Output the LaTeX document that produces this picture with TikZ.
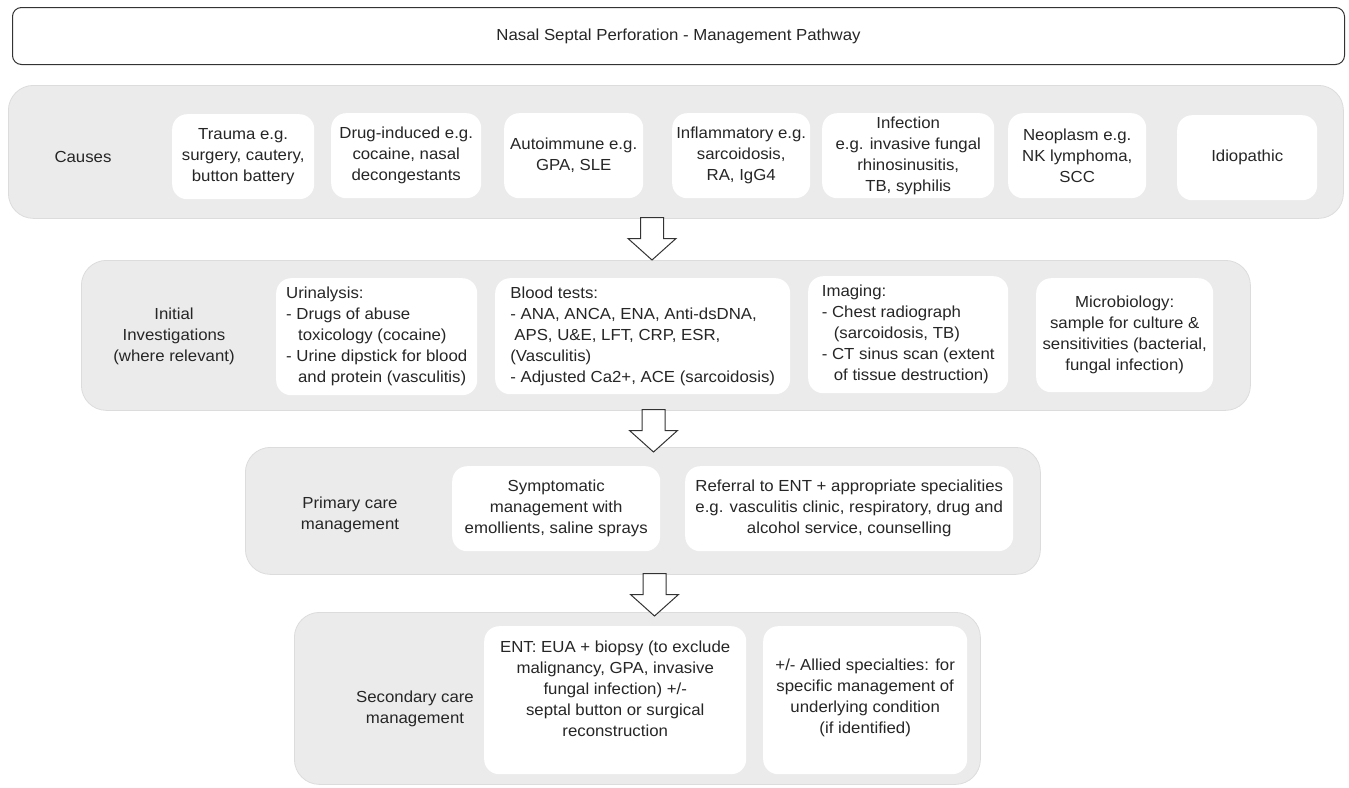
\documentclass[tikz,border=0pt]{standalone}
\usepackage{fontspec}
\setmainfont{Liberation Sans}[FakeStretch=1.05]
\definecolor{bandfill}{HTML}{EBEBEB}
\definecolor{bandline}{HTML}{DCDCDC}
\definecolor{txt}{HTML}{262626}
\definecolor{arrline}{HTML}{333333}
\newcommand{\ind}{\hspace*{12pt}}
\begin{document}
\begin{tikzpicture}[x=1pt,y=-1pt,
  every node/.style={font=\fontsize{16}{21}\selectfont, inner sep=0pt, text=txt},
  titlebox/.style={draw=arrline, line width=1pt, fill=white, rounded corners=9pt, anchor=north west},
  band/.style={draw=bandline, line width=0.8pt, fill=bandfill, rounded corners=25pt, anchor=north west},
  wbox/.style={fill=white, rounded corners=15pt, anchor=north west, align=center},
  lbox/.style={fill=white, rounded corners=15pt, anchor=north west, align=left},
  barrow/.style={draw=arrline, line width=1pt, fill=white, line join=miter}
]
\useasboundingbox (0,0) rectangle (1349,787);

% title
\node[titlebox, minimum width=1332, minimum height=57] (title) at (12,7) {Nasal Septal Perforation - Management Pathway};

% bands
\node[band, minimum width=1335, minimum height=133] (causes) at (8,85) {};
\node[band, minimum width=1169, minimum height=150] (inv) at (81,260) {};
\node[band, minimum width=795, minimum height=127] (prim) at (245,447) {};
\node[band, minimum width=686, minimum height=172] (sec) at (294,612) {};

% band labels
\node[align=center] (causeslbl) at (83,157) {Causes};
\node[align=center] (invlbl) at (174,336) {Initial\\Investigations\\(where relevant)};
\node[align=center] (primlbl) at (350,515) {Primary care\\management};
\node[align=center] (seclbl) at (415,709) {Secondary care\\management};

% causes boxes
\node[wbox, minimum width=142, minimum height=85] (trauma) at (172,114) {Trauma e.g.\\surgery, cautery,\\button battery};
\node[wbox, minimum width=150, minimum height=85] (drug) at (331,113) {Drug-induced e.g.\\cocaine, nasal\\decongestants};
\node[wbox, minimum width=139, minimum height=85] (auto) at (504,113) {Autoimmune e.g.\\GPA, SLE};
\node[wbox, minimum width=138, minimum height=85] (infl) at (672,113) {Inflammatory e.g.\\sarcoidosis,\\RA, IgG4};
\node[wbox, minimum width=172, minimum height=85] (infect) at (822,113) {Infection\\e.g. invasive fungal\\rhinosinusitis,\\TB, syphilis};
\node[wbox, minimum width=138, minimum height=85] (neo) at (1008,113) {Neoplasm e.g.\\NK lymphoma,\\SCC};
\node[wbox, minimum width=140, minimum height=85] (idio) at (1177,115) {Idiopathic};

% investigation boxes
\node[lbox, minimum width=201, minimum height=117] (urin) at (276,278) {Urinalysis:\\- Drugs of abuse\\\ind toxicology (cocaine)\\- Urine dipstick for blood\\\ind and protein (vasculitis)};
\node[lbox, minimum width=295, minimum height=116] (blood) at (495,278) {Blood tests:\\- ANA, ANCA, ENA, Anti-dsDNA,\\\hspace*{4pt}APS, U\&E, LFT, CRP, ESR,\\(Vasculitis)\\- Adjusted Ca2+, ACE (sarcoidosis)};
\node[lbox, minimum width=200, minimum height=117] (imaging) at (808,276) {Imaging:\\- Chest radiograph\\\ind (sarcoidosis, TB)\\- CT sinus scan (extent\\\ind of tissue destruction)};
\node[wbox, minimum width=177, minimum height=114] (micro) at (1036,278) {Microbiology:\\sample for culture \&\\sensitivities (bacterial,\\fungal infection)};

% primary care boxes
\node[wbox, minimum width=208, minimum height=85] (symp) at (452,466) {Symptomatic\\management with\\emollients, saline sprays};
\node[wbox, minimum width=328, minimum height=85] (ref) at (685,466) {Referral to ENT + appropriate specialities\\e.g. vasculitis clinic, respiratory, drug and\\alcohol service, counselling};

% secondary care boxes
\node[wbox, minimum width=262, minimum height=148] (ent) at (484,626) {};
\node[align=center] (enttxt) at (ent.center) [yshift=11pt] {ENT: EUA + biopsy (to exclude\\malignancy, GPA, invasive\\fungal infection) +/-\\septal button or surgical\\reconstruction};
\node[wbox, minimum width=204, minimum height=148] (allied) at (763,626) {};
\node[align=center] (alliedtxt) at (allied.center) [yshift=2pt] {+/- Allied specialties: for\\specific management of\\underlying condition\\(if identified)};

% block arrows between bands
\coordinate (a1) at (652,217.5);
\coordinate (a2) at (653.5,409.5);
\coordinate (a3) at (654.5,573.5);
\foreach \a in {a1,a2,a3}{
  \draw[barrow] (\a) ++(-11.5,0) -- ++(0,21) -- ++(-12.5,0) -- ++(24,21.5) -- ++(24,-21.5) -- ++(-12.5,0) -- ++(0,-21) -- cycle;
}
\end{tikzpicture}
\end{document}
